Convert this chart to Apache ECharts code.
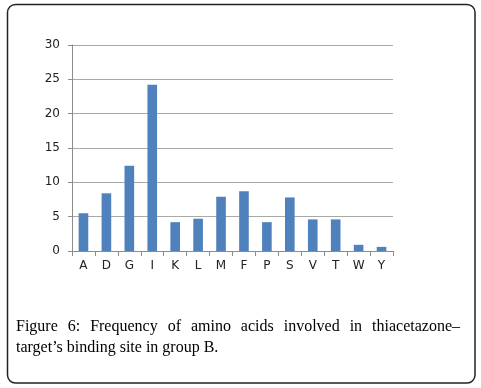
<!DOCTYPE html>
<html><head><meta charset="utf-8">
<script src="https://cdn.jsdelivr.net/npm/echarts@6/dist/echarts.min.js"></script>
<style>html,body{margin:0;padding:0;background:#fff}#c{width:481px;height:388px}</style>
</head><body><div id="c"></div>
<script>
const categories = ['A','D','G','I','K','L','M','F','P','S','V','T','W','Y'];
const frequency = [5.5, 8.4, 12.4, 24.2, 4.2, 4.7, 7.9, 8.7, 4.2, 7.8, 4.6, 4.6, 0.9, 0.6];
const yTicks = [0, 5, 10, 15, 20, 25, 30];
const captionLine1 = ['Figure', '6:', 'Frequency', 'of', 'amino', 'acids', 'involved', 'in', 'thiacetazone–'];
const captionLine2 = 'target’s binding site in group B.';

const chart = echarts.init(document.getElementById('c'), null, {renderer: 'canvas'});
const capFont = '16px "Liberation Serif", "DejaVu Serif", serif';
const ctx = document.createElement('canvas').getContext('2d');
ctx.font = capFont;
const L = 16, R = 460;
const widths = captionLine1.map(w => ctx.measureText(w).width);
const total = widths.reduce((a, b) => a + b, 0);
const gap = (R - L - total) / (captionLine1.length - 1);
const wordEls = [];
let x = L;
captionLine1.forEach((w, i) => {
  wordEls.push({type: 'text', left: x, top: 319, style: {text: w, font: capFont, fill: '#000'}});
  x += widths[i] + gap;
});

chart.setOption({
  animation: false,
  grid: {left: 72, right: 88, top: 45, bottom: 137},
  xAxis: {
    type: 'category', data: categories,
    axisLine: {lineStyle: {color: '#8c8c8c', width: 1}},
    axisTick: {show: true, alignWithLabel: false, length: 5, lineStyle: {color: '#8c8c8c'}},
    axisLabel: {color: '#222', fontFamily: 'DejaVu Sans', fontSize: 12, margin: 9}
  },
  yAxis: {
    type: 'value', min: yTicks[0], max: yTicks[yTicks.length - 1], interval: 5,
    axisLine: {show: true, lineStyle: {color: '#8c8c8c'}},
    axisTick: {show: true, length: 4, lineStyle: {color: '#8c8c8c'}},
    axisLabel: {color: '#222', fontFamily: 'DejaVu Sans', fontSize: 12, margin: 12},
    splitLine: {lineStyle: {color: '#a8a8a8', width: 1}}
  },
  series: [{
    type: 'bar', data: frequency, barWidth: '42%',
    itemStyle: {color: '#4f81bd'}
  }],
  graphic: [
    {type: 'rect', shape: {x: 7.5, y: 4.5, width: 467.5, height: 378.5, r: 8},
     style: {fill: 'none', stroke: '#222', lineWidth: 1.5}},
    ...wordEls,
    {type: 'text', left: L, top: 340, style: {text: captionLine2, font: capFont, fill: '#000'}}
  ]
});
</script></body></html>
